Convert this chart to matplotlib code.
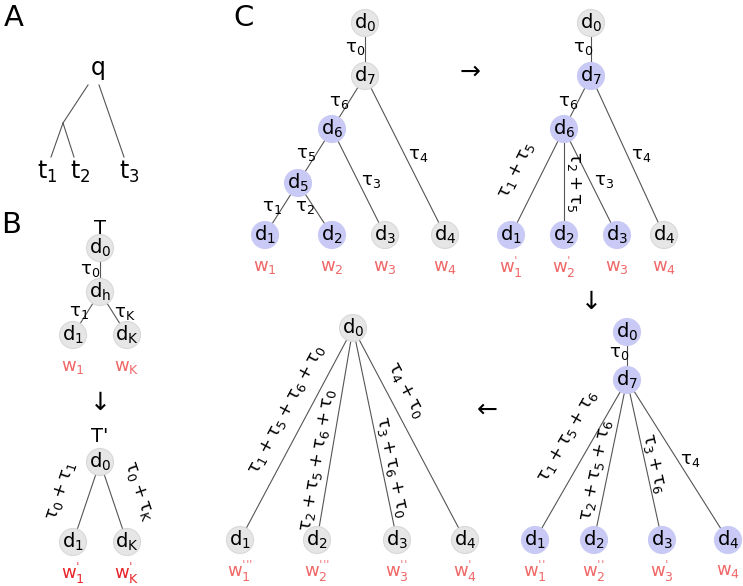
import math
import matplotlib
matplotlib.use("Agg")
import matplotlib.pyplot as plt
from matplotlib.patches import Circle

plt.rcParams['font.family'] = ['DejaVu Sans']
plt.rcParams['mathtext.default'] = 'regular'

GREY = '#e6e6e6'
BLUE = '#c9c9f6'
LINE = '#555555'
SALMON = '#f06868'
RED = '#e8252a'

# prime marks (short vertical ticks, as in the figure)
P1 = "^{\u02c8}"
P2 = "^{\u02c8\u02c8}"
P3 = "^{\u02c8\u02c8\u02c8}"

# ---- tree data (node -> pixel position), edges (parent, child, label, label pos, rotated)
# panel B, top tree
b1_nodes = {'d_0': (100, 248), 'd_h': (100, 292), 'd_1': (73, 335), 'd_K': (127, 335)}
b1_edges = [('d_0', 'd_h', r'\tau_0', (90, 270), False),
            ('d_h', 'd_1', r'\tau_1', (79, 312), False),
            ('d_h', 'd_K', r'\tau_K', (125, 313), False)]
b1_blue = []
b1_w = {'d_1': 'w_1', 'd_K': 'w_K'}

# panel B, bottom tree
b2_nodes = {'d_0': (100, 462), 'd_1': (73, 542), 'd_K': (127, 542)}
b2_edges = [('d_0', 'd_1', r'\tau_0 + \tau_1', (61, 491), True),
            ('d_0', 'd_K', r'\tau_0 + \tau_K', (139, 491), True)]
b2_blue = []
b2_w = {'d_1': 'w_1' + P1, 'd_K': 'w_K' + P1}

# panel C, step 1
c1_nodes = {'d_0': (365, 23), 'd_7': (365, 76), 'd_6': (332, 129), 'd_5': (298, 183),
            'd_1': (265, 235), 'd_2': (332, 235), 'd_3': (385, 235), 'd_4': (445, 235)}
c1_edges = [('d_0', 'd_7', r'\tau_0', (355, 48), False),
            ('d_7', 'd_6', r'\tau_6', (339, 102), False),
            ('d_6', 'd_5', r'\tau_5', (306, 154), False),
            ('d_5', 'd_1', r'\tau_1', (272, 207), False),
            ('d_5', 'd_2', r'\tau_2', (305, 207), False),
            ('d_6', 'd_3', r'\tau_3', (371, 181), False),
            ('d_7', 'd_4', r'\tau_4', (418, 155), False)]
c1_blue = ['d_6', 'd_5', 'd_1', 'd_2']
c1_w = {'d_1': 'w_1', 'd_2': 'w_2', 'd_3': 'w_3', 'd_4': 'w_4'}

# panel C, step 2
c2_nodes = {'d_0': (591, 23), 'd_7': (591, 76), 'd_6': (564, 129),
            'd_1': (511, 235), 'd_2': (564, 235), 'd_3': (617, 235), 'd_4': (664, 235)}
c2_edges = [('d_0', 'd_7', r'\tau_0', (583, 48), False),
            ('d_7', 'd_6', r'\tau_6', (568, 102), False),
            ('d_6', 'd_1', r'\tau_1 + \tau_5', (517, 170), True),
            ('d_6', 'd_2', r'\tau_2 + \tau_5', (574, 182), True),
            ('d_6', 'd_3', r'\tau_3', (604, 181), False),
            ('d_7', 'd_4', r'\tau_4', (641, 155), False)]
c2_blue = ['d_7', 'd_6', 'd_1', 'd_2', 'd_3']
c2_w = {'d_1': 'w_1' + P1, 'd_2': 'w_2' + P1, 'd_3': 'w_3', 'd_4': 'w_4'}

# panel C, step 3
c3_nodes = {'d_0': (627, 332), 'd_7': (627, 380),
            'd_1': (535, 540), 'd_2': (594, 540), 'd_3': (662, 540), 'd_4': (728, 540)}
c3_edges = [('d_0', 'd_7', r'\tau_0', (619, 353), False),
            ('d_7', 'd_1', r'\tau_1 + \tau_5 + \tau_6', (568, 437), True),
            ('d_7', 'd_2', r'\tau_2 + \tau_5 + \tau_6', (597, 471), True),
            ('d_7', 'd_3', r'\tau_3 + \tau_6', (653, 463), True),
            ('d_7', 'd_4', r'\tau_4', (690, 460), False)]
c3_blue = list(c3_nodes)
c3_w = {'d_1': 'w_1' + P2, 'd_2': 'w_2' + P2, 'd_3': 'w_3' + P1, 'd_4': 'w_4'}

# panel C, step 4
c4_nodes = {'d_0': (353, 328), 'd_1': (240, 540), 'd_2': (317, 540),
            'd_3': (397, 540), 'd_4': (465, 540)}
c4_edges = [('d_0', 'd_1', r'\tau_1 + \tau_5 + \tau_6 + \tau_0', (287, 410), True),
            ('d_0', 'd_2', r'\tau_2 + \tau_5 + \tau_6 + \tau_0', (318, 460), True),
            ('d_0', 'd_3', r'\tau_3 + \tau_6 + \tau_0', (391, 467), True),
            ('d_0', 'd_4', r'\tau_4 + \tau_0', (405, 390), True)]
c4_blue = []
c4_w = {'d_1': 'w_1' + P3, 'd_2': 'w_2' + P3, 'd_3': 'w_3' + P2, 'd_4': 'w_4' + P1}

# panel A
a_points = {'q_l': (88, 85), 'q_r': (99, 85), 'm': (63, 123),
            't_1': (51, 157), 't_2': (74, 157), 't_3': (124, 157)}
a_edges = [('q_l', 'm'), ('m', 't_1'), ('m', 't_2'), ('q_r', 't_3')]
a_labels = [('q', (97, 70)), ('t_1', (47, 172)), ('t_2', (80, 172)), ('t_3', (129, 172))]

R = 13.5

fig = plt.figure(figsize=(7.43, 5.86), dpi=100)
ax = fig.add_axes([0, 0, 1, 1])
ax.set_xlim(0, 743)
ax.set_ylim(586, 0)
ax.axis('off')


def draw_tree(nodes, edges, blue, wlab, wcolor, woff=32):
    for p, c, lab, pos, rot in edges:
        x0, y0 = nodes[p]
        x1, y1 = nodes[c]
        ax.plot([x0, x1], [y0, y1], color=LINE, lw=0.8, zorder=1)
        angle = 0
        if rot:
            if x1 < x0:
                angle = math.degrees(math.atan2(y1 - y0, x0 - x1))
            else:
                angle = math.degrees(math.atan2(-(y1 - y0), x1 - x0))
        ax.text(pos[0], pos[1], '$' + lab + '$', fontsize=13, ha='center', va='center',
                rotation=angle, rotation_mode='anchor', zorder=3)
    for n, (x, y) in nodes.items():
        fc = BLUE if n in blue else GREY
        ec = BLUE if n in blue else '#d8d8d8'
        ax.add_patch(Circle((x, y), R, fc=fc, ec=ec, lw=0.8, zorder=2))
        ax.text(x, y, '$' + n + '$', fontsize=14, ha='center', va='center', zorder=3)
    for n, w in wlab.items():
        x, y = nodes[n]
        ax.text(x, y + woff, '$' + w + '$', fontsize=13, ha='center', va='center',
                color=wcolor, zorder=3)


# panel A
for p, c in a_edges:
    ax.plot([a_points[p][0], a_points[c][0]], [a_points[p][1], a_points[c][1]],
            color=LINE, lw=0.8)
for n, (x, y) in a_labels:
    ax.text(x, y, '$' + n + '$', fontsize=17, ha='center', va='center')

draw_tree(b1_nodes, b1_edges, b1_blue, b1_w, SALMON)
draw_tree(b2_nodes, b2_edges, b2_blue, b2_w, RED, woff=31)
draw_tree(c1_nodes, c1_edges, c1_blue, c1_w, SALMON)
draw_tree(c2_nodes, c2_edges, c2_blue, c2_w, SALMON)
draw_tree(c3_nodes, c3_edges, c3_blue, c3_w, SALMON, woff=31)
draw_tree(c4_nodes, c4_edges, c4_blue, c4_w, SALMON, woff=31)

ax.text(100, 228, 'T', fontsize=14, ha='center', va='center')
ax.text(100, 437, "T'", fontsize=14, ha='center', va='center')

# panel letters
for s, (x, y) in [('A', (14, 18)), ('B', (11, 225)), ('C', (244, 18))]:
    ax.text(x, y, s, fontsize=21, ha='center', va='center')

# arrows between steps
for s, (x, y) in [('→', (470, 72)), ('↓', (100, 403)), ('↓', (591, 302)), ('←', (487, 410))]:
    ax.text(x, y, s, fontsize=18, ha='center', va='center')

fig.savefig('out.png', dpi=100)
